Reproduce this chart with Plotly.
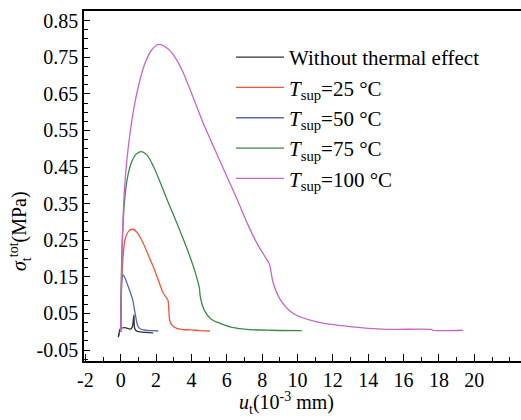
import plotly.graph_objects as go

# ---- data ----
black_x = [-0.1, -0.14, -0.1, -0.04, 0.24, 0.53, 0.65, 0.72, 0.75, 0.78, 0.85, 1.0, 1.4, 1.84]
black_y = [-0.004, -0.014, -0.01, 0.007, 0.011, 0.007, 0.012, 0.035, 0.046, 0.012, 0.004, 0.0, -0.002, -0.003]

red_x = [0, 0.05, 0.11, 0.24, 0.45, 0.68, 0.95, 1.28, 1.56, 1.84, 2.12, 2.41, 2.6, 2.68, 2.72, 2.78, 2.9, 3.17, 3.5, 4.0, 4.5, 5.05]
red_y = [0, 0.12, 0.187, 0.25, 0.275, 0.28, 0.27, 0.241, 0.21, 0.178, 0.142, 0.105, 0.092, 0.085, 0.06, 0.03, 0.018, 0.009, 0.006, 0.005, 0.003, 0.002]

blue_x = [0, 0.03, 0.06, 0.12, 0.19, 0.3, 0.43, 0.56, 0.68, 0.78, 0.87, 0.95, 1.09, 1.4, 1.8, 2.13]
blue_y = [0, 0.1, 0.14, 0.155, 0.152, 0.14, 0.123, 0.105, 0.087, 0.06, 0.036, 0.018, 0.008, 0.004, 0.003, 0.002]

green_x = [0, 0.05, 0.12, 0.24, 0.4, 0.6, 0.85, 1.15, 1.5, 1.85, 2.22, 2.7, 3.17, 3.55, 3.92, 4.2, 4.39, 4.45, 4.49, 4.6, 4.77, 5.1, 5.62, 6.3, 7.31, 8.5, 10.24]
green_y = [0, 0.18, 0.28, 0.369, 0.425, 0.462, 0.484, 0.492, 0.482, 0.452, 0.41, 0.352, 0.298, 0.252, 0.205, 0.165, 0.132, 0.12, 0.1, 0.075, 0.055, 0.035, 0.023, 0.012, 0.006, 0.004, 0.003]

magenta_x = [0, 0.05, 0.1, 0.2, 0.35, 0.55, 0.8, 1.1, 1.4, 1.75, 2.13, 2.6, 3.0, 3.5, 4.1, 4.7, 5.35, 6.0, 6.6, 7.2, 7.7, 8.16, 8.4, 8.5, 8.6, 9.0, 9.76, 11.09, 12.97, 15.05, 17.6, 17.65, 19.35]
magenta_y = [0, 0.15, 0.26, 0.38, 0.47, 0.55, 0.625, 0.69, 0.737, 0.77, 0.785, 0.776, 0.755, 0.712, 0.64, 0.566, 0.495, 0.425, 0.36, 0.292, 0.242, 0.205, 0.186, 0.165, 0.138, 0.09, 0.05, 0.027, 0.014, 0.0066, 0.006, 0.004, 0.004]

series_names = [
    "Without thermal effect",
    "<i>T</i><sub>sup</sub>=25 °C",
    "<i>T</i><sub>sup</sub>=50 °C",
    "<i>T</i><sub>sup</sub>=75 °C",
    "<i>T</i><sub>sup</sub>=100 °C",
]
series_colors = ["#333333", "#f4553a", "#5566bb", "#3a8a46", "#c965c9"]

x_tickvals = [-2, 0, 2, 4, 6, 8, 10, 12, 14, 16, 18, 20]
x_ticktext = ["-2", "0", "2", "4", "6", "8", "10", "12", "14", "16", "18", "20"]
y_tickvals = [-0.05, 0.05, 0.15, 0.25, 0.35, 0.45, 0.55, 0.65, 0.75, 0.85]
y_ticktext = ["-0.05", "0.05", "0.15", "0.25", "0.35", "0.45", "0.55", "0.65", "0.75", "0.85"]

FONT = "Liberation Serif, Times New Roman, serif"

fig = go.Figure()
xs = [black_x, red_x, blue_x, green_x, magenta_x]
ys = [black_y, red_y, blue_y, green_y, magenta_y]
for x, y, n, c in zip(xs, ys, series_names, series_colors):
    fig.add_trace(go.Scatter(x=x, y=y, mode="lines", name=n,
                             line=dict(color=c, width=1.3, shape="spline", smoothing=0.8)))

fig.update_layout(
    width=521, height=420,
    margin=dict(l=84, r=0, t=11, b=59),
    paper_bgcolor="white", plot_bgcolor="white",
    font=dict(family=FONT, size=20, color="black"),
    showlegend=True,
    legend=dict(x=(231 - 84) / 437, y=(361 - 37) / 350, xanchor="left", yanchor="top",
                bgcolor="rgba(0,0,0,0)", font=dict(family=FONT, size=21, color="black"),
                tracegroupgap=0, itemwidth=48),
    xaxis=dict(range=[-2.075, 22.64], tickvals=x_tickvals, ticktext=x_ticktext,
               showgrid=False, zeroline=False, showline=True, linecolor="black", linewidth=1.5,
               mirror=True, ticks="inside", ticklen=7, tickwidth=1.3, tickcolor="black",
               minor=dict(dtick=1, tick0=-2, ticks="inside", ticklen=4, tickwidth=1.2, tickcolor="black"),
               tickfont=dict(family=FONT, size=20)),
    yaxis=dict(range=[-0.08, 0.8765], tickvals=y_tickvals, ticktext=y_ticktext,
               showgrid=False, zeroline=False, showline=True, linecolor="black", linewidth=1.5,
               ticks="inside", ticklen=6, tickwidth=1.3, tickcolor="black",
               minor=dict(dtick=0.025, tick0=-0.05, ticks="inside", ticklen=4, tickwidth=1.2, tickcolor="black"),
               tickfont=dict(family=FONT, size=20)),
    annotations=[
        dict(text="<i>σ</i><sub>t</sub><sup>tot</sup>(MPa)", xref="paper", yref="paper",
             x=(20 - 84) / 437, y=(361 - 231) / 350, textangle=-90, showarrow=False,
             xanchor="center", yanchor="middle", font=dict(family=FONT, size=20)),
        dict(text="<i>u</i><sub>t</sub>(10<sup>-3</sup> mm)", xref="paper", yref="paper",
             x=(286 - 84) / 437, y=(361 - 419) / 350, showarrow=False,
             xanchor="center", yanchor="bottom", font=dict(family=FONT, size=20)),
    ],
)

fig.write_html("out.html")
